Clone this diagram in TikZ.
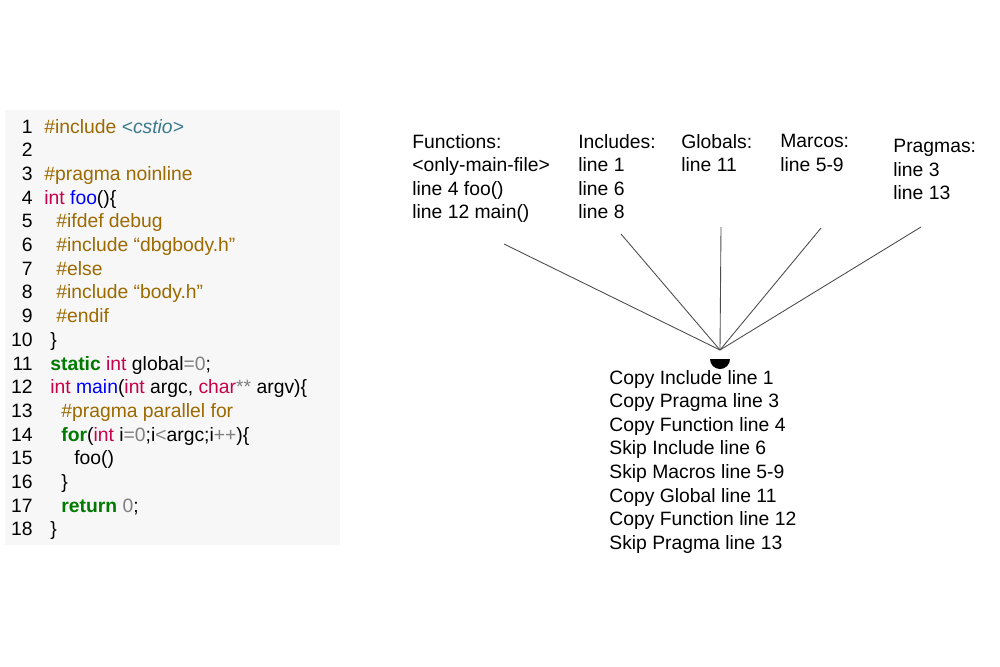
\documentclass[tikz,border=0pt]{standalone}
\usepackage{fontspec}
\setmainfont{Liberation Sans}
\usepackage{tikz}
\definecolor{pp}{HTML}{9C6A00}
\definecolor{kw}{HTML}{C8004A}
\definecolor{fn}{HTML}{0000FF}
\definecolor{st}{HTML}{007A00}
\definecolor{lit}{HTML}{808080}
\definecolor{hd}{HTML}{3C7A8A}
\definecolor{panel}{HTML}{F7F7F7}
\newcommand{\kw}[1]{\textcolor{kw}{#1}}
\newcommand{\pp}[1]{\textcolor{pp}{#1}}
\newcommand{\st}[1]{\textbf{\textcolor{st}{#1}}}
\newcommand{\lt}[1]{\textcolor{lit}{#1}}
\begin{document}
\begin{tikzpicture}[x=0.02cm,y=-0.02cm,font=\fontsize{11pt}{13.4pt}\selectfont]
            \tikzstyle{every node}+=[inner sep=0pt]
            \tikzstyle{num}=[anchor=base east]
            \tikzstyle{code}=[anchor=base west]
            \tikzstyle{lbl}=[anchor=north west,align=left]
            \useasboundingbox (0,0) rectangle (1000,666);
            \fill [panel] (5,110) rectangle (340,545);
            % line numbers
            \foreach \i in {1,...,18}
                \node [num] (n\i) at (33,{133+(\i-1)*23.7}) {\i};
            \node [code] (c1) at (44,133) {\pp{\#include} \textcolor{hd}{\itshape <cstio>}};
            \node [code] (c3) at (44,180.4) {\pp{\#pragma noinline}};
            \node [code] (c4) at (44,204.1) {\kw{int} \textcolor{fn}{foo}()\{};
            \node [code] (c5) at (56,227.8) {\pp{\#ifdef debug}};
            \node [code] (c6) at (56,251.5) {\pp{\#include “dbgbody.h”}};
            \node [code] (c7) at (56,275.2) {\pp{\#else}};
            \node [code] (c8) at (56,298.9) {\pp{\#include “body.h”}};
            \node [code] (c9) at (56,322.6) {\pp{\#endif}};
            \node [code] (c10) at (50,346.3) {\}};
            \node [code] (c11) at (50,370) {\st{static} \kw{int} global\lt{=0};};
            \node [code] (c12) at (50,393.7) {\kw{int} \textcolor{fn}{main}(\kw{int} argc, \kw{char}\lt{**} argv)\{};
            \node [code] (c13) at (61,417.4) {\pp{\#pragma parallel for}};
            \node [code] (c14) at (61,441.1) {\st{for}(\kw{int} i\lt{=0};i\lt{<}argc;i\lt{++})\{};
            \node [code] (c15) at (74,464.8) {foo()};
            \node [code] (c16) at (61,488.5) {\}};
            \node [code] (c17) at (61,512.2) {\st{return} \lt{0};};
            \node [code] (c18) at (50,535.9) {\}};
            % tables
            \node [lbl] (funcs) at (412,134) {Functions:\\<only-main-file>\\line 4 foo()\\line 12 main()};
            \node [lbl] (incs) at (578,134) {Includes:\\line 1\\line 6\\line 8};
            \node [lbl] (globs) at (681,134) {Globals:\\line 11};
            \node [lbl] (macs) at (780,134) {Marcos:\\line 5-9};
            \node [lbl] (prags) at (893,139) {Pragmas:\\line 3\\line 13};
            \coordinate (fEnd) at (504,244);
            \coordinate (iEnd) at (621,234);
            \coordinate (gEnd) at (721,227);
            \coordinate (mEnd) at (821,228);
            \coordinate (pEnd) at (921,227);
            \coordinate (hub) at (720,350);
            \fill [black] (730,359) arc (0:180:10) -- cycle;
            \foreach \e in {fEnd,iEnd,gEnd,mEnd,pEnd}
                \draw [black!70,line width=0.5pt] (\e) -- (hub);
            \node [lbl] (steps) at (609,370) {Copy Include line 1\\Copy Pragma line 3\\Copy Function line 4\\Skip Include line 6\\Skip Macros line 5-9\\Copy Global line 11\\Copy Function line 12\\Skip Pragma line 13};
        \end{tikzpicture}
\end{document}
